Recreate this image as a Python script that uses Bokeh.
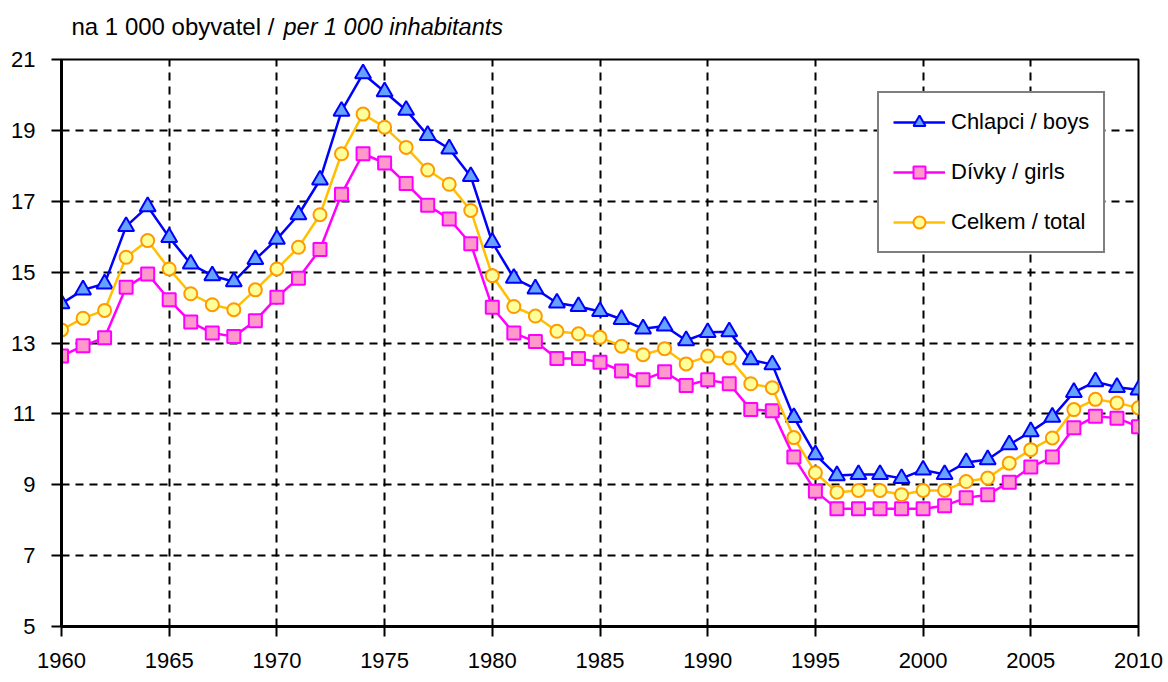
from bokeh.plotting import figure
from bokeh.models import ColumnDataSource, Label, FixedTicker, Range1d
from bokeh.layouts import column
from bokeh.embed import file_html
from bokeh.resources import INLINE

years = list(range(1960, 2011))

boys = [14.11, 14.50, 14.67, 16.29, 16.85, 15.98, 15.23, 14.90, 14.73, 15.36,
        15.93, 16.62, 17.60, 19.54, 20.60, 20.09, 19.57, 18.86, 18.48, 17.70,
        15.84, 14.83, 14.53, 14.13, 14.03, 13.89, 13.67, 13.40, 13.48, 13.07,
        13.30, 13.32, 12.53, 12.39, 10.90, 9.85, 9.26, 9.29, 9.29, 9.18,
        9.42, 9.29, 9.63, 9.71, 10.13, 10.50, 10.91, 11.61, 11.91, 11.75, 11.68]

girls = [12.63, 12.92, 13.15, 14.57, 14.95, 14.22, 13.59, 13.28, 13.18, 13.63,
         14.29, 14.83, 15.64, 17.20, 18.34, 18.08, 17.50, 16.89, 16.50, 15.80,
         14.01, 13.28, 13.04, 12.56, 12.56, 12.46, 12.21, 11.96, 12.19, 11.80,
         11.96, 11.85, 11.12, 11.09, 9.78, 8.82, 8.32, 8.32, 8.32, 8.32,
         8.32, 8.41, 8.63, 8.72, 9.07, 9.50, 9.78, 10.61, 10.93, 10.88, 10.64]

total = [13.37, 13.70, 13.92, 15.42, 15.89, 15.09, 14.39, 14.08, 13.94, 14.50,
         15.09, 15.70, 16.62, 18.34, 19.46, 19.09, 18.52, 17.88, 17.48, 16.74,
         14.90, 14.03, 13.76, 13.33, 13.26, 13.16, 12.91, 12.67, 12.84, 12.41,
         12.63, 12.58, 11.85, 11.74, 10.33, 9.34, 8.79, 8.84, 8.84, 8.72,
         8.84, 8.84, 9.09, 9.19, 9.61, 9.99, 10.32, 11.12, 11.41, 11.31, 11.17]

x_ticks = list(range(1960, 2011, 5))
y_ticks = list(range(5, 22, 2))

labels = ["Chlapci / boys", "Dívky / girls", "Celkem / total"]
title_main = "na 1 000 obyvatel /"
title_italic = "per 1 000 inhabitants"

FONT = "Liberation Sans"

# geometry of the main plot frame (canvas pixels)
FL, FR, FT, FB = 61, 1138, 59, 626
W, H = 1168, 682

# ---- title strip (separate small figure so the text is not clipped) ----
TH = 40
# the column aligns this strip's frame with the main frame, so its x range
# is expressed in canvas pixels of that frame
tp = figure(width=W, height=TH, output_backend="svg", toolbar_location=None,
            x_range=Range1d(FL, FR), y_range=Range1d(0, TH),
            min_border_left=0, min_border_right=0, min_border_top=0,
            min_border_bottom=0)
tp.axis.visible = False
tp.grid.visible = False
tp.outline_line_color = None
tp.background_fill_color = "white"
tp.border_fill_color = "white"
tp.add_layout(Label(x=71, y=TH - 26, text=title_main, text_font=FONT,
                    text_font_size="24px", text_baseline="middle",
                    text_color="black"))
tp.add_layout(Label(x=283, y=TH - 26, text=title_italic, text_font=FONT,
                    text_font_size="23.5px", text_font_style="italic",
                    text_baseline="middle", text_color="black"))

# ---- main chart ----
src = ColumnDataSource(dict(year=years, boys=boys, girls=girls, total=total))

p = figure(width=W, height=H - TH, output_backend="svg", toolbar_location=None,
           x_range=Range1d(1960, 2010), y_range=Range1d(5, 21),
           min_border_left=FL, min_border_right=W - FR, min_border_top=FT - TH,
           min_border_bottom=H - FB)

p.background_fill_color = "white"
p.border_fill_color = "white"
p.outline_line_color = "black"
p.outline_line_width = 2

for g in (p.xgrid, p.ygrid):
    g.grid_line_color = "black"
    g.grid_line_width = 2
    g.grid_line_dash = "8 6"
p.xgrid.ticker = FixedTicker(ticks=x_ticks)
p.ygrid.ticker = FixedTicker(ticks=y_ticks)

p.xaxis.ticker = FixedTicker(ticks=x_ticks)
p.yaxis.ticker = FixedTicker(ticks=y_ticks)
for ax in (p.xaxis[0], p.yaxis[0]):
    ax.axis_line_color = "black"
    ax.axis_line_width = 3
    ax.major_tick_line_color = "black"
    ax.major_tick_line_width = 2
    ax.major_tick_in = 0
    ax.minor_tick_line_color = None
    ax.major_label_text_font = FONT
    ax.major_label_text_font_size = "22px"
    ax.major_label_text_color = "black"
p.xaxis.major_tick_out = 10
p.xaxis.major_label_standoff = 16
p.yaxis.major_tick_out = 10
p.yaxis.major_label_standoff = 16

series = [
    ("boys", labels[0], "#0000ff", "triangle", "#66a3ff", "#0000ff", 16),
    ("girls", labels[1], "#ff00ff", "square", "#ff99cc", "#ff00ff", 13),
    ("total", labels[2], "#ffc000", "circle", "#ffff99", "#ff9900", 13),
]
for col, lab, lc, mk, fc, oc, sz in series:
    p.line("year", col, source=src, line_color=lc, line_width=2.5, legend_label=lab)
    p.scatter("year", col, source=src, marker=mk, size=sz, fill_color=fc,
              line_color=oc, line_width=2, legend_label=lab)

lg = p.legend[0]
lg.location = (816, 373)
lg.border_line_color = "black"
lg.border_line_width = 2
lg.background_fill_color = "white"
lg.background_fill_alpha = 1
lg.padding = 14
lg.spacing = 20
lg.margin = 0
lg.label_height = 30
lg.glyph_height = 30
lg.glyph_width = 52
lg.label_standoff = 6
lg.label_text_font = FONT
lg.label_text_font_size = "22px"
lg.label_text_color = "black"

layout = column(tp, p, spacing=0)

open("out.html", "w").write(file_html(layout, INLINE))
